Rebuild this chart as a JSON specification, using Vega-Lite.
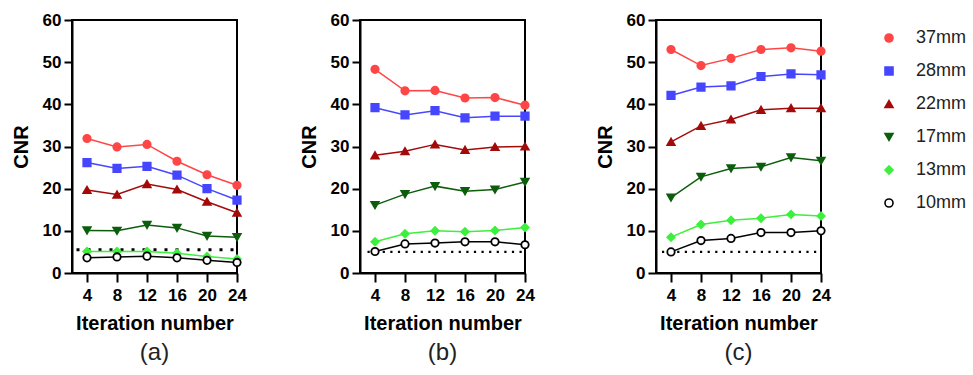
{
  "$schema": "https://vega.github.io/schema/vega-lite/v6.json",
  "padding": {"left": 10, "top": 10, "right": 0, "bottom": 0},
  "background": "white",
  "datasets": {
    "cnr": [
      {"panel":"a","size":"37mm","iter":4,"cnr":31.9},{"panel":"a","size":"37mm","iter":8,"cnr":29.9},{"panel":"a","size":"37mm","iter":12,"cnr":30.5},{"panel":"a","size":"37mm","iter":16,"cnr":26.5},{"panel":"a","size":"37mm","iter":20,"cnr":23.3},{"panel":"a","size":"37mm","iter":24,"cnr":20.8},
      {"panel":"a","size":"28mm","iter":4,"cnr":26.2},{"panel":"a","size":"28mm","iter":8,"cnr":24.8},{"panel":"a","size":"28mm","iter":12,"cnr":25.3},{"panel":"a","size":"28mm","iter":16,"cnr":23.2},{"panel":"a","size":"28mm","iter":20,"cnr":20.0},{"panel":"a","size":"28mm","iter":24,"cnr":17.3},
      {"panel":"a","size":"22mm","iter":4,"cnr":19.7},{"panel":"a","size":"22mm","iter":8,"cnr":18.6},{"panel":"a","size":"22mm","iter":12,"cnr":21.1},{"panel":"a","size":"22mm","iter":16,"cnr":19.8},{"panel":"a","size":"22mm","iter":20,"cnr":16.9},{"panel":"a","size":"22mm","iter":24,"cnr":14.3},
      {"panel":"a","size":"17mm","iter":4,"cnr":10.1},{"panel":"a","size":"17mm","iter":8,"cnr":10.0},{"panel":"a","size":"17mm","iter":12,"cnr":11.4},{"panel":"a","size":"17mm","iter":16,"cnr":10.7},{"panel":"a","size":"17mm","iter":20,"cnr":8.8},{"panel":"a","size":"17mm","iter":24,"cnr":8.5},
      {"panel":"a","size":"13mm","iter":4,"cnr":5.1},{"panel":"a","size":"13mm","iter":8,"cnr":5.1},{"panel":"a","size":"13mm","iter":12,"cnr":5.1},{"panel":"a","size":"13mm","iter":16,"cnr":4.7},{"panel":"a","size":"13mm","iter":20,"cnr":3.9},{"panel":"a","size":"13mm","iter":24,"cnr":3.3},
      {"panel":"a","size":"10mm","iter":4,"cnr":3.6},{"panel":"a","size":"10mm","iter":8,"cnr":3.8},{"panel":"a","size":"10mm","iter":12,"cnr":4.0},{"panel":"a","size":"10mm","iter":16,"cnr":3.6},{"panel":"a","size":"10mm","iter":20,"cnr":3.0},{"panel":"a","size":"10mm","iter":24,"cnr":2.5},
      {"panel":"b","size":"37mm","iter":4,"cnr":48.3},{"panel":"b","size":"37mm","iter":8,"cnr":43.2},{"panel":"b","size":"37mm","iter":12,"cnr":43.3},{"panel":"b","size":"37mm","iter":16,"cnr":41.5},{"panel":"b","size":"37mm","iter":20,"cnr":41.6},{"panel":"b","size":"37mm","iter":24,"cnr":39.8},
      {"panel":"b","size":"28mm","iter":4,"cnr":39.2},{"panel":"b","size":"28mm","iter":8,"cnr":37.5},{"panel":"b","size":"28mm","iter":12,"cnr":38.5},{"panel":"b","size":"28mm","iter":16,"cnr":36.8},{"panel":"b","size":"28mm","iter":20,"cnr":37.2},{"panel":"b","size":"28mm","iter":24,"cnr":37.2},
      {"panel":"b","size":"22mm","iter":4,"cnr":27.9},{"panel":"b","size":"22mm","iter":8,"cnr":28.9},{"panel":"b","size":"22mm","iter":12,"cnr":30.5},{"panel":"b","size":"22mm","iter":16,"cnr":29.2},{"panel":"b","size":"22mm","iter":20,"cnr":29.9},{"panel":"b","size":"22mm","iter":24,"cnr":30.0},
      {"panel":"b","size":"17mm","iter":4,"cnr":16.1},{"panel":"b","size":"17mm","iter":8,"cnr":18.7},{"panel":"b","size":"17mm","iter":12,"cnr":20.6},{"panel":"b","size":"17mm","iter":16,"cnr":19.4},{"panel":"b","size":"17mm","iter":20,"cnr":19.8},{"panel":"b","size":"17mm","iter":24,"cnr":21.6},
      {"panel":"b","size":"13mm","iter":4,"cnr":7.4},{"panel":"b","size":"13mm","iter":8,"cnr":9.3},{"panel":"b","size":"13mm","iter":12,"cnr":10.0},{"panel":"b","size":"13mm","iter":16,"cnr":9.8},{"panel":"b","size":"13mm","iter":20,"cnr":10.1},{"panel":"b","size":"13mm","iter":24,"cnr":10.8},
      {"panel":"b","size":"10mm","iter":4,"cnr":5.1},{"panel":"b","size":"10mm","iter":8,"cnr":6.9},{"panel":"b","size":"10mm","iter":12,"cnr":7.1},{"panel":"b","size":"10mm","iter":16,"cnr":7.4},{"panel":"b","size":"10mm","iter":20,"cnr":7.4},{"panel":"b","size":"10mm","iter":24,"cnr":6.7},
      {"panel":"c","size":"37mm","iter":4,"cnr":53.0},{"panel":"c","size":"37mm","iter":8,"cnr":49.2},{"panel":"c","size":"37mm","iter":12,"cnr":50.9},{"panel":"c","size":"37mm","iter":16,"cnr":53.0},{"panel":"c","size":"37mm","iter":20,"cnr":53.4},{"panel":"c","size":"37mm","iter":24,"cnr":52.6},
      {"panel":"c","size":"28mm","iter":4,"cnr":42.1},{"panel":"c","size":"28mm","iter":8,"cnr":44.1},{"panel":"c","size":"28mm","iter":12,"cnr":44.4},{"panel":"c","size":"28mm","iter":16,"cnr":46.6},{"panel":"c","size":"28mm","iter":20,"cnr":47.2},{"panel":"c","size":"28mm","iter":24,"cnr":47.0},
      {"panel":"c","size":"22mm","iter":4,"cnr":31.1},{"panel":"c","size":"22mm","iter":8,"cnr":34.9},{"panel":"c","size":"22mm","iter":12,"cnr":36.4},{"panel":"c","size":"22mm","iter":16,"cnr":38.7},{"panel":"c","size":"22mm","iter":20,"cnr":39.1},{"panel":"c","size":"22mm","iter":24,"cnr":39.1},
      {"panel":"c","size":"17mm","iter":4,"cnr":17.9},{"panel":"c","size":"17mm","iter":8,"cnr":22.8},{"panel":"c","size":"17mm","iter":12,"cnr":24.8},{"panel":"c","size":"17mm","iter":16,"cnr":25.2},{"panel":"c","size":"17mm","iter":20,"cnr":27.4},{"panel":"c","size":"17mm","iter":24,"cnr":26.6},
      {"panel":"c","size":"13mm","iter":4,"cnr":8.5},{"panel":"c","size":"13mm","iter":8,"cnr":11.5},{"panel":"c","size":"13mm","iter":12,"cnr":12.5},{"panel":"c","size":"13mm","iter":16,"cnr":13.0},{"panel":"c","size":"13mm","iter":20,"cnr":13.9},{"panel":"c","size":"13mm","iter":24,"cnr":13.5},
      {"panel":"c","size":"10mm","iter":4,"cnr":5.0},{"panel":"c","size":"10mm","iter":8,"cnr":7.7},{"panel":"c","size":"10mm","iter":12,"cnr":8.2},{"panel":"c","size":"10mm","iter":16,"cnr":9.6},{"panel":"c","size":"10mm","iter":20,"cnr":9.6},{"panel":"c","size":"10mm","iter":24,"cnr":10.0}
    ],
    "thr": [
      {"panel":"a","thr":5.5},
      {"panel":"b","thr":5.0},
      {"panel":"c","thr":5.0}
    ]
  },
  "config": {
    "font": "Liberation Sans",
    "view": {"stroke": "black", "strokeWidth": 2},
    "axis": {
      "domainColor": "black", "domainWidth": 2, "tickColor": "black", "tickWidth": 2,
      "labelFont": "Liberation Sans", "labelFontWeight": "bold", "labelFontSize": 17, "labelColor": "black",
      "titleFont": "Liberation Sans", "titleFontWeight": "bold", "titleFontSize": 20, "titleColor": "black",
      "grid": false, "labelOverlap": false, "labelBound": false, "tickCount": 12
    },
    "axisX": {"tickSize": 9, "labelPadding": 5, "titlePadding": 10, "labelFlush": false},
    "axisY": {"tickSize": 8, "labelPadding": 3, "titlePadding": 11},
    "title": {"font": "Liberation Sans", "fontWeight": "normal", "fontSize": 24, "color": "#222222"},
    "legend": {
      "orient": "right", "offset": 39, "padding": 9,
      "symbolSize": 64, "symbolStrokeWidth": 1.6, "rowPadding": 15, "labelOffset": 18,
      "labelFont": "Liberation Sans", "labelFontSize": 18, "labelColor": "#222222", "labelFontWeight": "normal"
    }
  },
  "spacing": 58,
  "hconcat": [
    {
      "spacing": 50,
      "hconcat": [
        {
          "width": 165, "height": 253,
          "title": {"text": "(a)", "orient": "bottom", "offset": 8},
          "layer": [
            {
              "data": {"name": "thr"},
              "transform": [{"filter": "datum.panel === 'a'"}],
              "mark": {"type": "rule", "color": "black", "strokeWidth": 3, "strokeDash": [3, 8]},
              "encoding": {
                "y": {"field": "thr", "type": "quantitative", "scale": {"domain": [0, 60], "nice": false}},
                "x": {"datum": 2.6, "type": "quantitative"},
                "x2": {"datum": 23.8}
              }
            },
            {
              "data": {"name": "cnr"},
              "transform": [{"filter": "datum.panel === 'a'"}],
              "mark": {"type": "line", "strokeWidth": 1.5},
              "encoding": {
                "x": {"field": "iter", "type": "quantitative", "title": "Iteration number", "scale": {"domain": [2, 24], "nice": false, "zero": false}, "axis": {"values": [4, 8, 12, 16, 20, 24], "tickCount": 12}},
                "y": {"field": "cnr", "type": "quantitative", "title": "CNR", "scale": {"domain": [0, 60], "nice": false}, "axis": {"values": [0, 10, 20, 30, 40, 50, 60], "tickCount": 12}},
                "stroke": {"field": "size", "type": "nominal", "title": null, "scale": {"domain": ["37mm","28mm","22mm","17mm","13mm","10mm"], "range": ["#ff4646","#4646ff","#a30a0a","#0c5e0c","#3cf03c","#000000"]}}
              }
            },
            {
              "data": {"name": "cnr"},
              "transform": [{"filter": "datum.panel === 'a'"}],
              "mark": {"type": "point", "opacity": 1, "strokeWidth": 1.8, "size": 55},
              "encoding": {
                "x": {"field": "iter", "type": "quantitative"},
                "y": {"field": "cnr", "type": "quantitative"},
                "stroke": {"field": "size", "type": "nominal", "title": null},
                "fill": {"field": "size", "type": "nominal", "title": null, "scale": {"domain": ["37mm","28mm","22mm","17mm","13mm","10mm"], "range": ["#ff4646","#4646ff","#a30a0a","#0c5e0c","#3cf03c","#ffffff"]}},
                "shape": {"field": "size", "type": "nominal", "title": null, "scale": {"domain": ["37mm","28mm","22mm","17mm","13mm","10mm"], "range": ["circle","square","triangle-up","triangle-down","diamond","circle"]}}
              }
            }
          ]
        },
        {
          "width": 165, "height": 253,
          "title": {"text": "(b)", "orient": "bottom", "offset": 8},
          "layer": [
            {
              "data": {"name": "thr"},
              "transform": [{"filter": "datum.panel === 'b'"}],
              "mark": {"type": "rule", "color": "black", "strokeWidth": 2.2, "strokeDash": [2.2, 5.4]},
              "encoding": {
                "y": {"field": "thr", "type": "quantitative", "scale": {"domain": [0, 60], "nice": false}},
                "x": {"datum": 3.0, "type": "quantitative"},
                "x2": {"datum": 23.8}
              }
            },
            {
              "data": {"name": "cnr"},
              "transform": [{"filter": "datum.panel === 'b'"}],
              "mark": {"type": "line", "strokeWidth": 1.5},
              "encoding": {
                "x": {"field": "iter", "type": "quantitative", "title": "Iteration number", "scale": {"domain": [2, 24], "nice": false, "zero": false}, "axis": {"values": [4, 8, 12, 16, 20, 24], "tickCount": 12}},
                "y": {"field": "cnr", "type": "quantitative", "title": "CNR", "scale": {"domain": [0, 60], "nice": false}, "axis": {"values": [0, 10, 20, 30, 40, 50, 60], "tickCount": 12}},
                "stroke": {"field": "size", "type": "nominal", "title": null}
              }
            },
            {
              "data": {"name": "cnr"},
              "transform": [{"filter": "datum.panel === 'b'"}],
              "mark": {"type": "point", "opacity": 1, "strokeWidth": 1.8, "size": 55},
              "encoding": {
                "x": {"field": "iter", "type": "quantitative"},
                "y": {"field": "cnr", "type": "quantitative"},
                "stroke": {"field": "size", "type": "nominal", "title": null},
                "fill": {"field": "size", "type": "nominal", "title": null},
                "shape": {"field": "size", "type": "nominal", "title": null}
              }
            }
          ]
        }
      ]
    },
    {
      "width": 165, "height": 253,
      "title": {"text": "(c)", "orient": "bottom", "offset": 8},
      "layer": [
        {
          "data": {"name": "thr"},
          "transform": [{"filter": "datum.panel === 'c'"}],
          "mark": {"type": "rule", "color": "black", "strokeWidth": 2.2, "strokeDash": [2.2, 5.4]},
          "encoding": {
            "y": {"field": "thr", "type": "quantitative", "scale": {"domain": [0, 60], "nice": false}},
            "x": {"datum": 2.8, "type": "quantitative"},
            "x2": {"datum": 23.8}
          }
        },
        {
          "data": {"name": "cnr"},
          "transform": [{"filter": "datum.panel === 'c'"}],
          "mark": {"type": "line", "strokeWidth": 1.5},
          "encoding": {
            "x": {"field": "iter", "type": "quantitative", "title": "Iteration number", "scale": {"domain": [2, 24], "nice": false, "zero": false}, "axis": {"values": [4, 8, 12, 16, 20, 24], "tickCount": 12}},
            "y": {"field": "cnr", "type": "quantitative", "title": "CNR", "scale": {"domain": [0, 60], "nice": false}, "axis": {"values": [0, 10, 20, 30, 40, 50, 60], "tickCount": 12}},
            "stroke": {"field": "size", "type": "nominal", "title": null}
          }
        },
        {
          "data": {"name": "cnr"},
          "transform": [{"filter": "datum.panel === 'c'"}],
          "mark": {"type": "point", "opacity": 1, "strokeWidth": 1.8, "size": 55},
          "encoding": {
            "x": {"field": "iter", "type": "quantitative"},
            "y": {"field": "cnr", "type": "quantitative"},
            "stroke": {"field": "size", "type": "nominal", "title": null},
            "fill": {"field": "size", "type": "nominal", "title": null},
            "shape": {"field": "size", "type": "nominal", "title": null}
          }
        }
      ]
    }
  ]
}
